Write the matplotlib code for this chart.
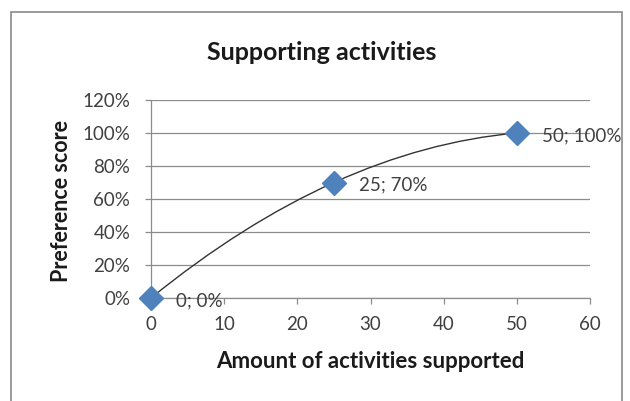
import numpy as np
import matplotlib
matplotlib.use("Agg")
import matplotlib.pyplot as plt
from matplotlib.path import Path
from matplotlib.patches import PathPatch, Rectangle
from matplotlib.ticker import FuncFormatter

plt.rcParams['font.family'] = ['Lato', 'DejaVu Sans']

# Data
activities = [0, 25, 50]
preference = [0.00, 0.70, 1.00]
point_labels = ["0; 0%", "25; 70%", "50; 100%"]
x_ticks = [0, 10, 20, 30, 40, 50, 60]
y_ticks = [0.0, 0.2, 0.4, 0.6, 0.8, 1.0, 1.2]

TEXT = "#404040"
GRID = "#8c8c8c"
BLUE = "#4F81BD"

fig = plt.figure(figsize=(6.30, 4.01), dpi=100)
fig.patch.set_facecolor("white")

# chart frame
fig.patches.append(Rectangle((11 / 630, -0.05), (622 - 11) / 630, 1 - 12 / 401 + 0.05,
                             transform=fig.transFigure, fill=False,
                             edgecolor="#8a8a8a", linewidth=1.2))

ax = fig.add_axes([151 / 630, 1 - 298 / 401, (590 - 151) / 630, (298 - 100) / 401])
ax.set_xlim(0, 60)
ax.set_ylim(0, 1.2)
ax.set_xticks(x_ticks)
ax.set_yticks(y_ticks)
ax.yaxis.set_major_formatter(FuncFormatter(lambda v, p: f"{v * 100:.0f}%"))
ax.grid(axis="y", color=GRID, linewidth=0.9)
ax.set_axisbelow(True)
for s in ["top", "right"]:
    ax.spines[s].set_visible(False)
for s in ["left", "bottom"]:
    ax.spines[s].set_color(GRID)
    ax.spines[s].set_linewidth(0.9)
ax.tick_params(axis="both", colors=GRID, length=4, width=0.9, labelcolor=TEXT,
               labelsize=13.5)
ax.tick_params(axis="x", pad=9)
ax.tick_params(axis="y", pad=11)

# smoothed connecting line: cubic Bezier segments with tangents taken
# from the parabola through the three points
x = np.array(activities, float)
y = np.array(preference, float)
coef = np.polyfit(x, y, 2)
dcoef = np.polyder(coef)
slopes = np.polyval(dcoef, x)
verts = [(x[0], y[0])]
codes = [Path.MOVETO]
for i in range(len(x) - 1):
    h = x[i + 1] - x[i]
    verts += [(x[i] + h / 3, y[i] + slopes[i] * h / 3),
              (x[i + 1] - h / 3, y[i + 1] - slopes[i + 1] * h / 3),
              (x[i + 1], y[i + 1])]
    codes += [Path.CURVE4] * 3
ax.add_patch(PathPatch(Path(verts, codes), facecolor="none",
                       edgecolor="#333333", linewidth=1.0, zorder=3))

ax.plot(activities, preference, linestyle="none", marker="D", markersize=12,
        markerfacecolor=BLUE, markeredgecolor=BLUE, zorder=4, clip_on=False)

for xv, yv, lab in zip(activities, preference, point_labels):
    ax.annotate(lab, (xv, yv), xytext=(18, -2), textcoords="offset points",
                ha="left", va="center", fontsize=13.5, color=TEXT, zorder=5)

fig.text(322 / 630, 1 - 52 / 401, "Supporting activities", ha="center", va="center",
         fontsize=18, fontweight="bold", color="#1a1a1a")
fig.text(370 / 630, 1 - 362 / 401, "Amount of activities supported", ha="center",
         va="center", fontsize=16, fontweight="bold", color="#1a1a1a")
fig.text(62 / 630, 1 - 201 / 401, "Preference score", ha="center", va="center",
         rotation=90, fontsize=15.5, fontweight="bold", color="#1a1a1a")

fig.savefig("out.png", dpi=100)
